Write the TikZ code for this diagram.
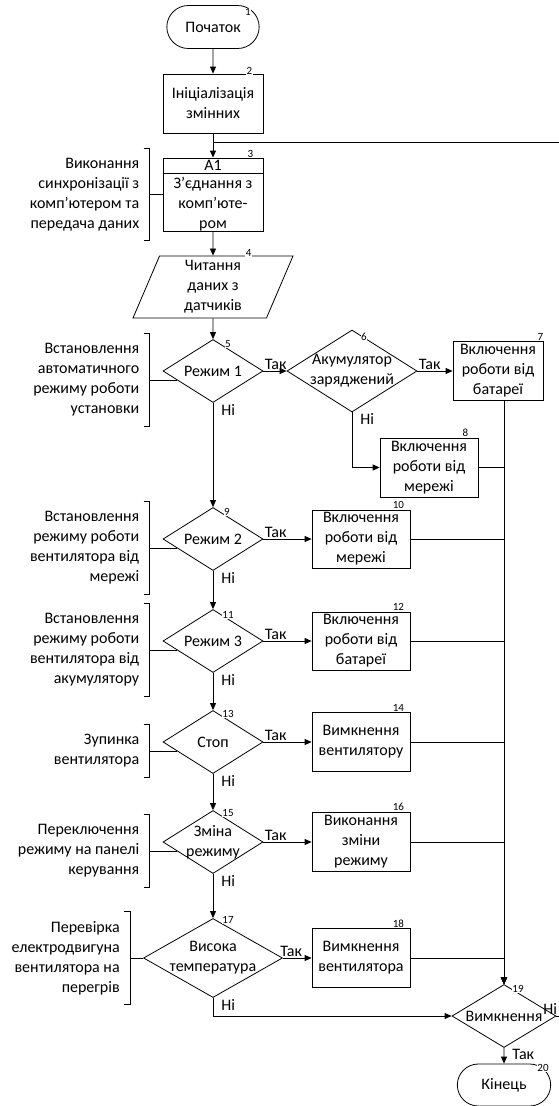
\documentclass[tikz,border=0pt]{standalone}
\usepackage{fontspec}
\setmainfont{Carlito}
\usetikzlibrary{shapes.geometric, shapes.misc, arrows.meta, positioning}
\tikzstyle{terminal} = [rounded rectangle, minimum width = 99pt, minimum height = 43pt, draw = black, fill = white]
\tikzstyle{process} = [rectangle, minimum width = 98pt, minimum height = 59pt, inner sep = 2pt, align = center, draw = black, fill = white]
\tikzstyle{io} = [trapezium, trapezium left angle = 65, trapezium right angle = 115, trapezium stretches body, minimum width = 160pt, minimum height = 62pt, inner sep = 2pt, align = center, draw = black, fill = white]
\tikzstyle{decision} = [diamond, aspect = 1.6, minimum width = 100pt, minimum height = 63pt, inner sep = 0pt, align = center, draw = black, fill = white]
\tikzstyle{note} = [align = right, inner xsep = 10pt, inner ysep = 9.5pt]
\tikzstyle{num} = [font = \fontsize{11pt}{12pt}\selectfont, inner sep = 0.5pt, fill = white]
\tikzstyle{yeslabel} = [anchor = south west, inner sep = 1pt]
\tikzstyle{nolabel} = [anchor = north west, inner sep = 1pt, xshift = 7pt]
\tikzstyle{arrow} = [-{Triangle[length = 7pt, width = 6pt]}]
\newcommand{\dline}[1]{\makebox[0pt]{#1}}

\begin{document}
\begin{tikzpicture}[node distance = 100pt, line width = 0.8pt, font = \fontsize{16pt}{20pt}\selectfont]
\useasboundingbox (0,0) rectangle (559pt, -1106pt);

%NODES
\node (start) [terminal] at (213pt, -27pt) {Початок};
\node (init) [process, minimum width = 100pt, below of = start, yshift = 23.5pt] {Ініціалізація\\змінних};
\node (sync) [process, minimum width = 100pt, minimum height = 73pt, below of = init, yshift = 9pt] {};
\node (synchead) [below = 0pt of sync.north, minimum height = 15pt, inner sep = 0pt] {A1};
\node (synctext) [below = 0pt of synchead, minimum height = 58pt, align = center] {З’єднання з\\комп’юте-\\ром};
\node (read) [io, below of = sync, yshift = 7.5pt] {Читання\\даних з\\датчиків};
\node (mode1) [decision, below of = read, yshift = 16pt] {Режим 1};
\node (charged) [decision, minimum width = 130pt, minimum height = 82pt, right of = mode1, xshift = 39pt] {\dline{Акумулятор}\\\dline{заряджений}};
\node (onbat) [process, minimum width = 90pt, right of = charged, xshift = 46pt] {Включення\\роботи від\\батареї};
\node (onnet) [process, below of = charged, xshift = 77pt, yshift = 3.5pt] {Включення\\роботи від\\мережі};
\node (mode2) [decision, below of = mode1, yshift = -68pt] {Режим 2};
\node (net2) [process, minimum height = 58pt, right of = mode2, xshift = 48pt] {Включення\\роботи від\\мережі};
\node (mode3) [decision, below of = mode2, yshift = -2pt] {Режим 3};
\node (bat3) [process, minimum height = 58pt, right of = mode3, xshift = 48pt] {Включення\\роботи від\\батареї};
\node (stop) [decision, below of = mode3, yshift = -1pt] {Стоп};
\node (fanoff) [process, right of = stop, xshift = 48pt] {Вимкнення\\вентилятору};
\node (change) [decision, below of = stop] {\dline{Зміна}\\\dline{режиму}};
\node (dochange) [process, right of = change, xshift = 48pt] {Виконання\\зміни\\режиму};
\node (hot) [decision, minimum width = 139pt, minimum height = 79pt, below of = change, yshift = -16pt] {\dline{Висока}\\\dline{температура}};
\node (fanoff2) [process, right of = hot, xshift = 48pt] {Вимкнення\\вентилятора};
\node (shutdown) [decision, minimum width = 104pt, right of = fanoff2, xshift = 43pt, yshift = -58pt] {Вимкнення};
\node (finish) [terminal, minimum width = 100pt, minimum height = 42pt, below of = shutdown, yshift = 31pt] {Кінець};
\coordinate (loop) at ([yshift = -9pt]init.south);

%NOTES
\node (note3) [note, left = 13pt of sync.west] {Виконання\\синхронізації з\\комп’ютером та\\передача даних};
\node (note5) [note, left = 13pt of mode1.west, yshift = -9pt] {Встановлення\\автоматичного\\режиму роботи\\установки};
\node (note9) [note, left = 13pt of mode2.west, yshift = -9pt] {Встановлення\\режиму роботи\\вентилятора від\\мережі};
\node (note11) [note, left = 13pt of mode3.west, yshift = -9pt] {Встановлення\\режиму роботи\\вентилятора від\\акумулятору};
\node (note13) [note, left = 13pt of stop.west, yshift = -9pt] {Зупинка\\вентилятора};
\node (note15) [note, left = 13pt of change.west, yshift = -9pt] {Переключення\\режиму на панелі\\керування};
\node (note17) [note, left = 13pt of hot.west] {Перевірка\\електродвигуна\\вентилятора на\\перегрів};

%NUMBERS
\foreach \a/\k/\dx/\dy in {start.north/1/35/-7, init.north east/2/-14/3, sync.north east/3/-13/4, read.top right corner/4/-45/3,
  mode1.north/5/15/-5, charged.north/6/12/-7, onbat.north east/7/-3/4, onnet.north east/8/-13/5,
  mode2.north/9/14/-5, net2.north east/10/-12/5, mode3.north/11/15/-6, bat3.north east/12/-12/5,
  stop.north/13/15/-4, fanoff.north east/14/-12/4, change.north/15/15/-3, dochange.north east/16/-12/5,
  hot.north/17/15/-2, fanoff2.north east/18/-12/4, shutdown.north/19/14/-5, finish.north/20/39/-4}
  \node (num\k) [num] at ([xshift = \dx pt, yshift = \dy pt]\a) {\k};

%ARROWS
\draw (synchead.south -| sync.west) -- (synchead.south -| sync.east);
\draw [arrow] (start) -- (init);
\draw [arrow] (init) -- (synchead);
\draw [arrow] (sync) -- (read);
\draw [arrow] (read) -- (mode1);
\draw [arrow] (mode1) -- node [yeslabel, pos = 0] {Так} (charged);
\draw [arrow] (charged) -- node [yeslabel, pos = 0] {Так} (onbat);
\draw [arrow] (charged) |- node [nolabel, pos = 0] {Ні} (onnet);
\draw [arrow] (mode1) -- node [nolabel, pos = 0] {Ні} (mode2);
\draw [arrow] (mode2) -- node [yeslabel, pos = 0] {Так} (net2);
\draw [arrow] (mode2) -- node [nolabel, pos = 0] {Ні} (mode3);
\draw [arrow] (mode3) -- node [yeslabel, pos = 0] {Так} (bat3);
\draw [arrow] (mode3) -- node [nolabel, pos = 0] {Ні} (stop);
\draw [arrow] (stop) -- node [yeslabel, pos = 0] {Так} (fanoff);
\draw [arrow] (stop) -- node [nolabel, pos = 0] {Ні} (change);
\draw [arrow] (change) -- node [yeslabel, pos = 0] {Так} (dochange);
\draw [arrow] (change) -- node [nolabel, pos = 0] {Ні} (hot);
\draw [arrow] (hot) -- node [yeslabel, pos = 0, xshift = -4pt] {Так} (fanoff2);
\draw [arrow] (hot) |- node [nolabel, pos = 0] {Ні} (shutdown);
\draw [arrow] (onbat.south -| shutdown.north) -- (shutdown);
\foreach \n in {onnet, net2, bat3, fanoff, dochange, fanoff2}
  \draw [arrow] (\n) -| (shutdown);
\draw [arrow] (shutdown) -- node [nolabel, pos = 0] {Так} (finish);
\draw (shutdown.east) -- node [anchor = south east, inner sep = 1pt, pos = 0, xshift = 2pt] {Ні} ++(25pt, 0) |- (loop);

%BRACKETS
\draw (sync) -- (note3);
\draw (hot) -- (note17);
\draw (mode1.194) -- (mode1.194 -| note5.east);
\draw (mode2.194) -- (mode2.194 -| note9.east);
\draw (mode3.194) -- (mode3.194 -| note11.east);
\draw (stop.194) -- (stop.194 -| note13.east);
\draw (change.194) -- (change.194 -| note15.east);
\foreach \n in {note3, note5, note9, note11, note13, note15, note17}
  \draw ([xshift = -6pt]\n.north east) -- (\n.north east) -- (\n.south east) -- ([xshift = -6pt]\n.south east);

\end{tikzpicture}
\end{document}
